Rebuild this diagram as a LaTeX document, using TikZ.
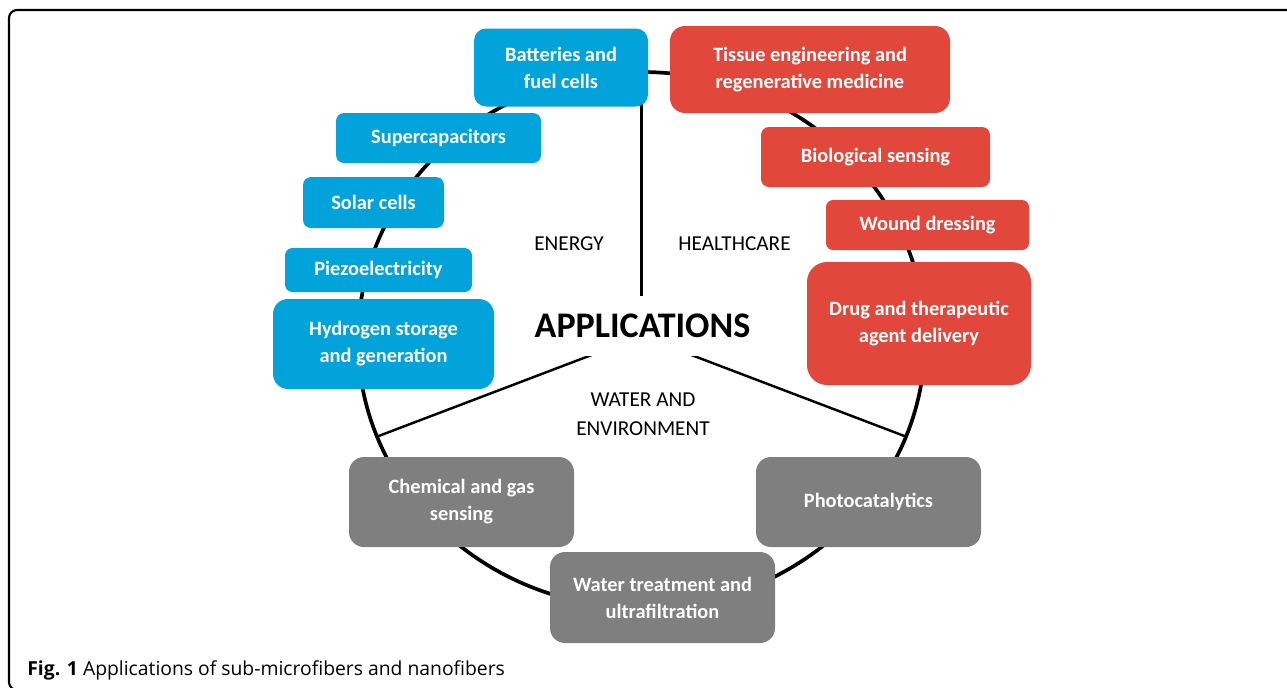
\documentclass[tikz,border=0pt]{standalone}
\usepackage{fontspec}
\usepackage{xcolor}
\setmainfont{Carlito}
\newfontfamily\captionfont{Open Sans}
\usetikzlibrary{positioning,calc}
\definecolor{enblue}{RGB}{2,163,218}
\definecolor{hcred}{RGB}{225,71,58}
\definecolor{wegray}{RGB}{127,127,127}

\begin{document}
\begin{tikzpicture}[
    x=0.02cm, y=-0.02cm,
    every node/.style={font=\fontsize{11.6pt}{15.3pt}\selectfont},
    appbox/.style 2 args={rectangle, inner sep=0pt, align=center, text=white, font=\bfseries\fontsize{11.6pt}{15.3pt}\selectfont, minimum width=#1*0.02cm, minimum height=#2*0.02cm, rounded corners=0.24cm},
    enbox/.style={fill=enblue},
    hcbox/.style={fill=hcred},
    webox/.style={fill=wegray},
    sector/.style={font=\fontsize{12.1pt}{16.4pt}\selectfont, align=center, inner sep=0pt},
    spoke/.style={line width=1.4pt, black},
    ring/.style={line width=2.1pt, black}
]

\useasboundingbox (0,0) rectangle (1287,687);
\clip (0,0) rectangle (1287,687);

\draw[line width=1.2pt, rounded corners=0.16cm] (1300,10) -- (9,10) -- (9,690) -- (60,690);

\coordinate (ctr) at (641.5,336);
\coordinate (top) at (641.5,72);
\coordinate (lft) at (376,437);
\coordinate (rgt) at (907,437);

\draw[ring] (641.5,340) ellipse [x radius=283.5, y radius=268];
\draw[spoke] (ctr) -- (top);
\draw[spoke] (ctr) -- (lft);
\draw[spoke] (ctr) -- (rgt);

\node[appbox={174}{78}, enbox] (batt) at (561,67.5) {Batteries and\\fuel cells};
\node[appbox={205}{50}, enbox, rounded corners=0.16cm] (supcap) at (438.5,138) {Supercapacitors};
\node[appbox={141}{51}, enbox, rounded corners=0.16cm] (solar) at (373.5,202.5) {Solar cells};
\node[appbox={187}{44}, enbox, rounded corners=0.15cm] (piezo) at (378.5,270) {Piezoelectricity};
\node[appbox={221}{90}, enbox, rounded corners=0.3cm] (hydro) at (383.5,344) {Hydrogen storage\\and generation};

\node[appbox={280}{87}, hcbox, rounded corners=0.3cm] (tissue) at (810,69.5) {Tissue engineering and\\regenerative medicine};
\node[appbox={229}{60}, hcbox, rounded corners=0.16cm] (bio) at (875.5,157) {Biological sensing};
\node[appbox={203}{50}, hcbox, rounded corners=0.14cm] (wound) at (927.5,225) {Wound dressing};
\node[appbox={224}{123}, hcbox, rounded corners=0.4cm] (drug) at (919,323.5) {Drug and therapeutic\\agent delivery};

\node[appbox={225}{90}, webox, rounded corners=0.3cm] (chem) at (461.5,502) {Chemical and gas\\sensing};
\node[appbox={225}{90}, webox, rounded corners=0.3cm] (photo) at (868.5,502) {Photocatalytics};
\node[appbox={225}{91}, webox, rounded corners=0.3cm] (wtreat) at (662.5,597.5) {Water treatment and\\ultrafiltration};

\node[fill=white, inner xsep=4pt, inner ysep=0pt, minimum height=60*0.02cm, font=\bfseries\fontsize{20.5pt}{24pt}\selectfont] (apps) at (642.5,326) {APPLICATIONS};

\node[sector, anchor=base] (energy) at (569,250) {ENERGY};
\node[sector, anchor=base] (healthcare) at (734.5,250) {HEALTHCARE};
\node[sector] (waterenv) at (643,414.5) {WATER AND\\ENVIRONMENT};

\node[anchor=base west, inner sep=0pt, font=\captionfont\fontsize{11pt}{13pt}\selectfont] (caption) at (27,675) {\textbf{Fig. 1} Applications of sub-microfibers and nanofibers};

\end{tikzpicture}
\end{document}
